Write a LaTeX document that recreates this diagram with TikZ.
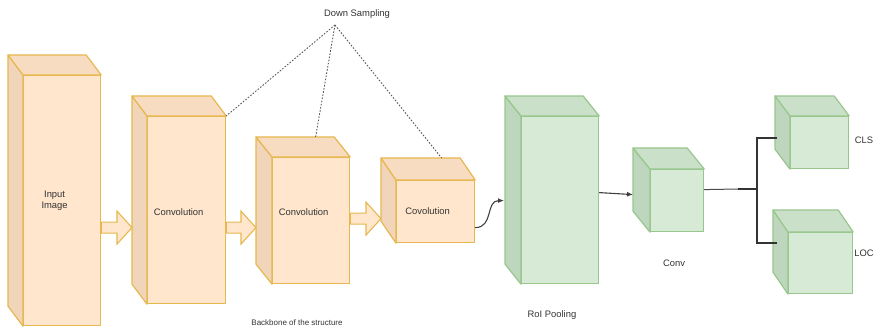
\documentclass[tikz,border=0pt]{standalone}
\usepackage{fontspec}
\setmainfont{Liberation Sans}
\usetikzlibrary{calc,arrows.meta}

\definecolor{ofront}{HTML}{FFE6CC}
\definecolor{otop}{HTML}{F8DCC1}
\definecolor{oside}{HTML}{F0D5BB}
\definecolor{ostroke}{HTML}{E6B84F}
\definecolor{gfront}{HTML}{D7EAD5}
\definecolor{gtop}{HTML}{CBE0C9}
\definecolor{gside}{HTML}{BED6BD}
\definecolor{gstroke}{HTML}{98C78E}
\definecolor{txt}{HTML}{333333}

\tikzset{
  face/.style={line width=1.2pt, line join=round},
  ofrontbox/.style={draw=ostroke, fill=ofront, face, inner sep=0pt, anchor=north west},
  gfrontbox/.style={draw=gstroke, fill=gfront, face, inner sep=0pt, anchor=north west},
  oside/.style={draw=ostroke, fill=oside, face},
  otop/.style={draw=ostroke, fill=otop, face},
  gside/.style={draw=gstroke, fill=gside, face},
  gtop/.style={draw=gstroke, fill=gtop, face},
  lbl/.style={font=\fontsize{9.4}{11}\selectfont, text=txt, align=center, inner sep=0pt},
  fatarrow/.style={draw=ostroke, fill=ofront, line width=1.1pt, line join=miter},
  dotline/.style={draw=black!65, line width=0.9pt, dash pattern=on 1.6pt off 1.6pt},
  thinarrow/.style={draw=black!75, line width=1.1pt, -{Latex[length=6pt,width=5pt]}},
  tree/.style={draw=black!80, line width=2pt},
}

% side and top faces of a cube whose front face is node #1, depth (#2,#3)
\newcommand\cubefaces[4]{%
  \filldraw[#4side] (#1.north west) -- ++(-#2,-#3) -- ($(#1.south west)+(-#2,-#3)$) -- (#1.south west) -- cycle;
  \filldraw[#4top] (#1.north west) -- ++(-#2,-#3) -- ($(#1.north east)+(-#2,-#3)$) -- (#1.north east) -- cycle;
}
% hollow block arrow from coordinate #1 to coordinate #2 (same height)
\newcommand\blockarrow[2]{%
  \filldraw[fatarrow] ($(#1)+(0,-5.5)$) -- ($(#2)+(-15,-5.5)$) -- ($(#2)+(-15,-16.5)$) -- (#2)
    -- ($(#2)+(-15,16.5)$) -- ($(#2)+(-15,5.5)$) -- ($(#1)+(0,5.5)$) -- cycle;
}

\begin{document}
\begin{tikzpicture}[x=1pt,y=-1pt]
\useasboundingbox (0,0) rectangle (878,331);

% backbone cubes
\node[ofrontbox, minimum width=77pt, minimum height=250pt] (in) at (23,75) {};
\cubefaces{in}{15}{20}{o}
\node[ofrontbox, minimum width=78pt, minimum height=187pt] (c1) at (147,116) {};
\cubefaces{c1}{15}{20}{o}
\node[ofrontbox, minimum width=77pt, minimum height=126pt] (c2) at (272,157) {};
\cubefaces{c2}{16}{20}{o}
\node[ofrontbox, minimum width=78pt, minimum height=62pt] (c3) at (396,180) {};
\cubefaces{c3}{15}{22}{o}

\node[lbl] (inT) at ($(in.center)+(-7.5,0)$) {Input\\Image};
\node[lbl] (c1T) at ($(c1.center)+(-8,2.5)$) {Convolution};
\node[lbl] (c2T) at ($(c2.center)+(-7.5,-8)$) {Convolution};
\node[lbl] (c3T) at ($(c3.center)+(-8,0)$) {Covolution};

% head cubes
\node[gfrontbox, minimum width=77pt, minimum height=167pt] (roi) at (521,116) {};
\cubefaces{roi}{16}{20}{g}
\node[gfrontbox, minimum width=53pt, minimum height=62pt] (cv) at (650,169) {};
\cubefaces{cv}{17}{21}{g}
\node[gfrontbox, minimum width=58pt, minimum height=52pt] (cls) at (790,116) {};
\cubefaces{cls}{15}{20}{g}
\node[gfrontbox, minimum width=64pt, minimum height=61pt] (loc) at (788,232) {};
\cubefaces{loc}{15}{22}{g}

% block arrows between backbone stages
\coordinate (a1s) at ($(in.east)+(0,27)$);
\coordinate (a1e) at ($(a1s -| c1.west)+(-15,0)$);
\blockarrow{a1s}{a1e}
\coordinate (a2s) at ($(c1.east)+(0,17.5)$);
\coordinate (a2e) at ($(a2s -| c2.west)+(-16,0)$);
\blockarrow{a2s}{a2e}
\coordinate (a3s) at ($(c2.east)+(0,-2)$);
\coordinate (a3e) at ($(a3s -| c3.west)+(-15,0)$);
\blockarrow{a3s}{a3e}

% down sampling annotation
\node[lbl] (ds) at (357,14) {Down Sampling};
\coordinate (apex) at (335,25);
\coordinate (ds2) at ($(c2.north)+(4.5,-20)$);
\coordinate (ds3) at ($(c3.north)+(6,-22)$);
\draw[dotline] (apex) -- (c1.north east);
\draw[dotline] (apex) -- (ds2);
\draw[dotline] (apex) -- (ds3);

% connectors of the head
\coordinate (r1s) at ($(c3.east)+(0,16)$);
\coordinate (r1e) at ($(roi.west)+(-17,0.5)$);
\draw[thinarrow] (r1s) to[out=0,in=180,looseness=1.2] (r1e);
\coordinate (r2s) at ($(roi.east)+(0,-7.5)$);
\coordinate (r2e) at ($(cv.west)+(-17,-6)$);
\draw[thinarrow] (r2s) -- (r2e);

\coordinate (j) at (757,189);
\coordinate (jin) at ($(cv.east)+(0,-11)$);
\coordinate (jthick) at (738,189);
\coordinate (jt) at ($(cls.west)+(-13,-5)$);
\coordinate (jb) at ($(loc.west)+(-11,-20.5)$);
\draw[draw=black!70, line width=1pt] (jin) -- (jthick);
\draw[tree] (jthick) -- (j);
\draw[tree] (jt) -| (j) |- (jb);

% captions
\node[lbl] (convT) at (674,263) {Conv};
\node[lbl] (roiT) at (552,315) {RoI Pooling};
\node[lbl, font=\fontsize{8}{9.5}\selectfont] (bbT) at (297,323) {Backbone of the structure};
\node[lbl] (clsT) at (864,140) {CLS};
\node[lbl] (locT) at (864,253) {LOC};
\end{tikzpicture}
\end{document}
